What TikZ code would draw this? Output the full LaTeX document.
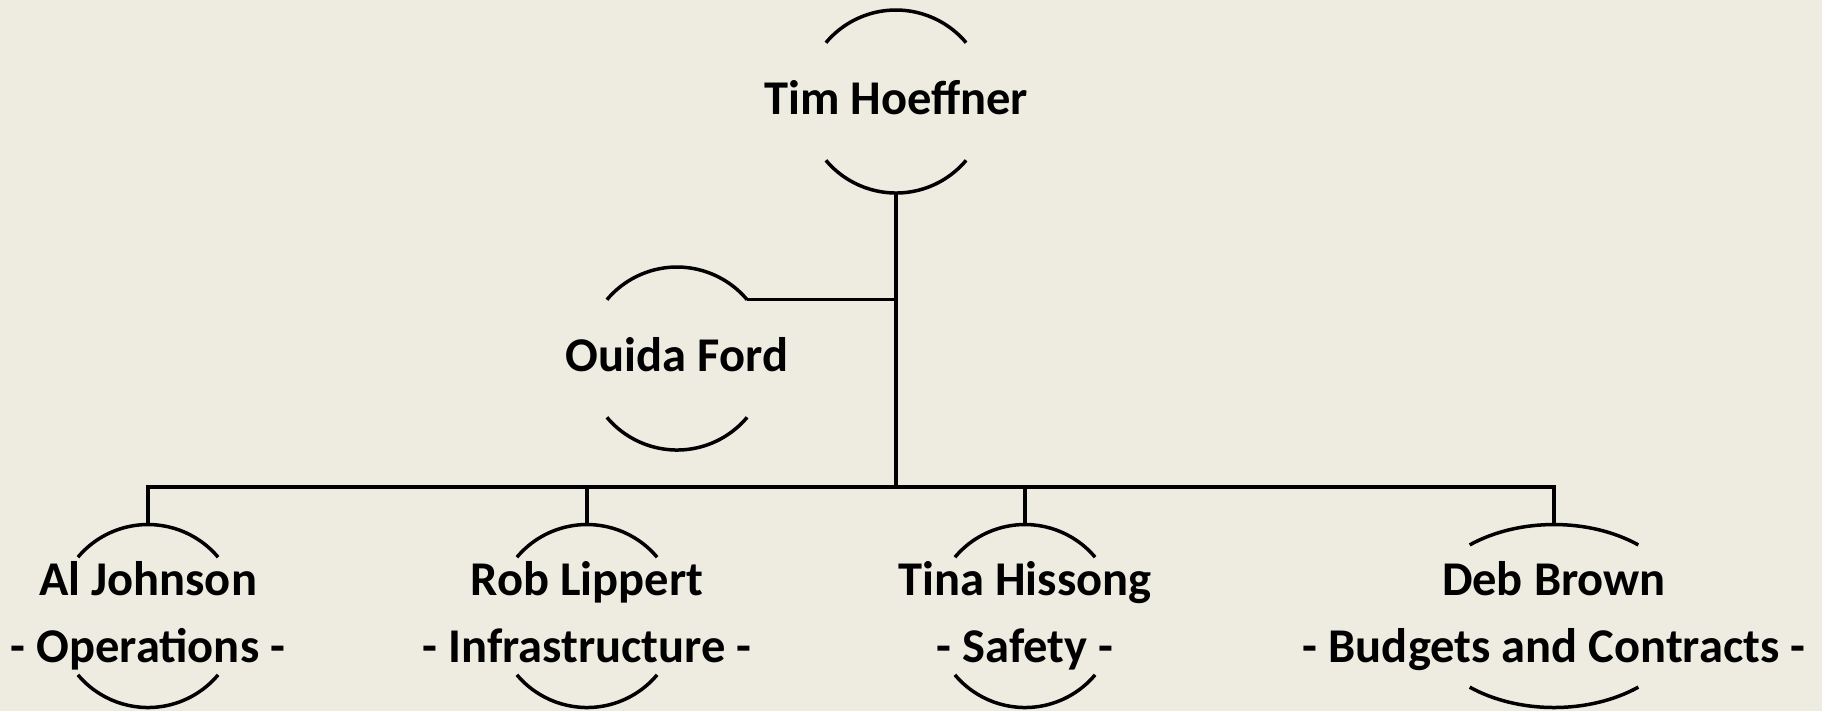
\documentclass[tikz,border=0pt]{standalone}
\usepackage{fontspec}
\setmainfont{Carlito}
\usetikzlibrary{positioning}

\definecolor{paper}{RGB}{238,235,224}

% top and bottom rim of a person: node, x radius, start angle
\newcommand{\rims}[3]{%
  \draw[rim] ([shift={(#3:#2 and 9.15mm)}]#1.center) arc[start angle=#3, end angle=180-#3, x radius=#2, y radius=9.15mm];
  \draw[rim] ([shift={(180+#3:#2 and 9.15mm)}]#1.center) arc[start angle=180+#3, end angle=360-#3, x radius=#2, y radius=9.15mm];
}

\begin{document}
\begin{tikzpicture}[
    x=0.1mm, y=-0.1mm,
    person/.style={
      inner sep=0pt,
      align=center,
      font=\fontsize{13.8pt}{19pt}\selectfont\bfseries,
      execute at begin node=\strut,
      execute at end node=\strut
    },
    rim/.style={line width=0.35mm},
    link/.style={line width=0.35mm}
  ]
    \fill[paper] (0,0) rectangle (1822,711);
    \fill[white] (1822,0) rectangle (1829,711);
    \useasboundingbox (0,0) rectangle (1829,711);

    \node[person] (tim) at (896,101.5)  {Tim Hoeffner};
    \node[person] (ouida) at (677,358.5) {Ouida Ford};
    \node[person] (al) at (148,616)     {\strut Al Johnson\\- Operations -};
    \node[person] (rob) at (587,616)    {\strut Rob Lippert\\- Infrastructure -};
    \node[person] (tina) at (1025,616)  {\strut Tina Hissong\\- Safety -};
    \node[person] (deb) at (1554,616)   {\strut Deb Brown\\- Budgets and Contracts -};

    \rims{tim}{9.15mm}{40}
    \rims{ouida}{9.15mm}{40}
    \rims{al}{9.15mm}{40}
    \rims{rob}{9.15mm}{40}
    \rims{tina}{9.15mm}{40}
    \rims{deb}{13.4mm}{51}

    \coordinate (bus) at (896,487);
    \coordinate (ouidatip) at ([shift={(40:9.15mm)}]ouida.center);

    \draw[link] ([yshift=-9.15mm]tim.center) -- (bus);
    \draw[link] (ouidatip) -- (ouidatip -| tim.center);
    \draw[link] ([yshift=9.15mm]al.center) |- (bus) -| ([yshift=9.15mm]deb.center);
    \draw[link] ([yshift=9.15mm]rob.center) -- (rob.center |- bus);
    \draw[link] ([yshift=9.15mm]tina.center) -- (tina.center |- bus);
  \end{tikzpicture}
\end{document}
